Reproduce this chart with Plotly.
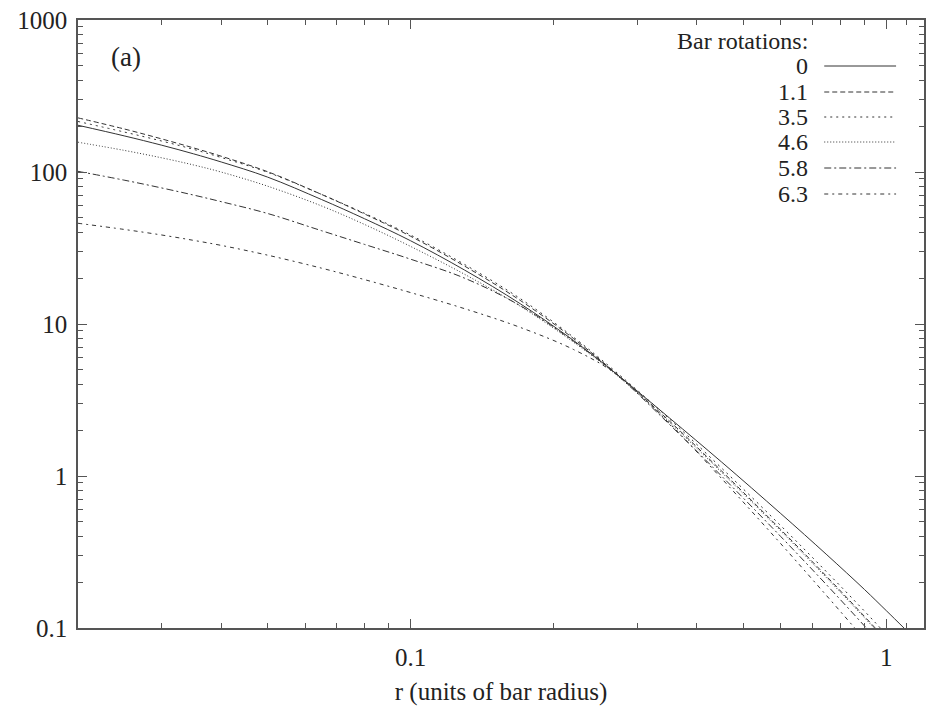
import plotly.graph_objects as go

# ---- data ----
r_vals = [0.02, 0.025, 0.03, 0.035, 0.04, 0.05, 0.065, 0.08, 0.1, 0.13, 0.17,
          0.22, 0.27, 0.35, 0.45, 0.6, 0.75, 0.9, 1.0, 1.1]

series_names = ["0", "1.1", "3.5", "4.6", "5.8", "6.3"]

rot_0 = [203, 172.9, 150, 131.6, 116.4, 92.7, 65.9, 49.3, 35.3, 22.6, 13.6,
         7.8, 4.73, 2.41, 1.24, 0.566, 0.303, 0.179, 0.130, 0.097]
rot_1_1 = [227, 192, 165, 144, 127, 100.6, 71.2, 53, 37.8, 24, 14.3,
           8.03, 4.75, 2.30, 1.083, 0.444, 0.2175, 0.119, 0.0832, 0.0595]
rot_3_5 = [215, 183.3, 159.8, 140.8, 124.5, 99.7, 71.2, 53.5, 38.5, 24.6, 14.7,
           8.19, 4.85, 2.375, 1.132, 0.471, 0.233, 0.129, 0.0906, 0.065]
rot_4_6 = [157, 138.8, 123.9, 111.2, 99.9, 80.8, 59.8, 45.2, 32.4, 21.2, 13.1,
           7.6, 4.66, 2.253, 1.061, 0.435, 0.213, 0.1167, 0.0816, 0.0583]
rot_5_8 = [101, 88.4, 78.5, 70.5, 63.8, 53.4, 41.1, 33.4, 26.7, 20.0, 13.2,
           7.7, 4.7, 2.186, 1.003, 0.3996, 0.1914, 0.103, 0.0712, 0.0505]
rot_6_3 = [46, 41.9, 38.5, 35.5, 32.9, 28.4, 23.3, 19.6, 16.1, 12.6, 9.5,
           6.8, 4.7, 2.215, 0.967, 0.3585, 0.1624, 0.0842, 0.0573, 0.0405]

series_values = [rot_0, rot_1_1, rot_3_5, rot_4_6, rot_5_8, rot_6_3]

x_tick_vals = [0.1, 1]
x_tick_text = ["0.1", "1"]
y_tick_vals = [0.1, 1, 10, 100, 1000]
y_tick_text = ["0.1", "1", "10", "100", "1000"]

x_minor = [m * 10 ** e for e in (-2, -1) for m in range(2, 10)] + [1.1]
y_minor = [m * 10 ** e for e in (-1, 0, 1, 2) for m in range(2, 10)]

# ---- styles ----
dashes = ["solid", "5px,3px", "2px,4px", "1px,2px", "7px,3px,2px,3px", "4px,4px,2px,4px"]
line_color = "#333333"
FONT = "'Liberation Serif', 'Times New Roman', Times, serif"
FS = 25
FS_LEG = 24

W, H = 926, 706
ML, MR, MT, MB = 78, 0, 20, 78
PW, PH = W - ML - MR, H - MT - MB

fig = go.Figure()
for name, vals, dash in zip(series_names, series_values, dashes):
    fig.add_trace(go.Scatter(x=r_vals, y=vals, mode="lines", name=name,
                             line=dict(color=line_color, width=1, dash=dash,
                                       shape="spline", smoothing=1.0),
                             showlegend=False))

def px2paper(x, y):
    return (x - ML) / PW, 1 - (y - MT) / PH

annotations = []
shapes = []
tx, ty = px2paper(812, 41)
annotations.append(dict(x=tx, y=ty, xref="paper", yref="paper", text="Bar rotations:",
                        showarrow=False, xanchor="right", yanchor="middle",
                        font=dict(family=FONT, size=FS_LEG, color="#222")))
row_y = [66, 92, 117, 142, 168, 194]
for name, dash, ry in zip(series_names, dashes, row_y):
    lx, ly = px2paper(812, ry)
    annotations.append(dict(x=lx, y=ly, xref="paper", yref="paper", text=name,
                            showarrow=False, xanchor="right", yanchor="middle",
                            font=dict(family=FONT, size=FS_LEG, color="#222")))
    x0, y0 = px2paper(826, ry)
    x1, _ = px2paper(898, ry)
    shapes.append(dict(type="line", xref="paper", yref="paper", x0=x0, x1=x1, y0=y0, y1=y0,
                       line=dict(color=line_color, width=1, dash=dash)))

ax, ay = px2paper(126, 57)
annotations.append(dict(x=ax, y=ay, xref="paper", yref="paper", text="(a)",
                        showarrow=False, xanchor="center", yanchor="middle",
                        font=dict(family=FONT, size=27, color="#222")))

axis_common = dict(showline=True, linecolor="#555", linewidth=1.5, mirror="allticks",
                   ticks="inside", ticklen=9, tickwidth=1.2, tickcolor="#555",
                   showgrid=False, zeroline=False,
                   tickfont=dict(family=FONT, size=FS, color="#222"))

fig.update_layout(
    width=W, height=H,
    margin=dict(l=ML, r=MR, t=MT, b=MB),
    paper_bgcolor="white", plot_bgcolor="white",
    font=dict(family=FONT, size=FS, color="#222"),
    xaxis=dict(type="log", range=[-1.699, 0.0792], tickmode="array",
               tickvals=x_tick_vals, ticktext=x_tick_text,
               minor=dict(tickmode="array", tickvals=x_minor, ticks="inside",
                          ticklen=5, tickcolor="#555", tickwidth=1),
               title=dict(text="r (units of bar radius)", standoff=14,
                          font=dict(family=FONT, size=FS, color="#222")),
               ticklabelstandoff=6,
               **axis_common),
    yaxis=dict(type="log", range=[-1, 3], tickmode="array",
               tickvals=y_tick_vals, ticktext=y_tick_text,
               minor=dict(tickmode="array", tickvals=y_minor, ticks="inside",
                          ticklen=5, tickcolor="#555", tickwidth=1),
               ticklabelstandoff=4,
               **axis_common),
    annotations=annotations,
    shapes=shapes,
)

fig.write_html("out.html")
